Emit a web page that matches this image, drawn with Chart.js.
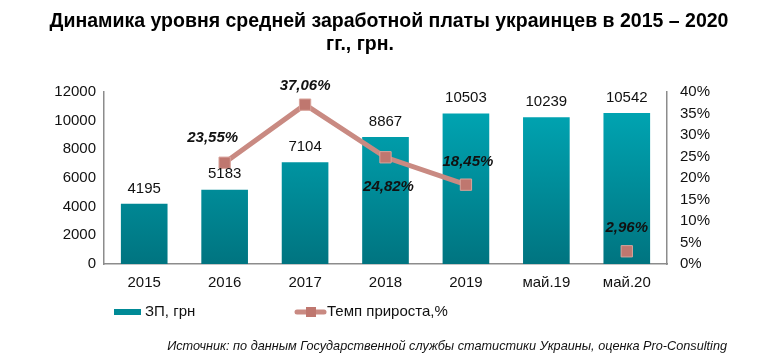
<!DOCTYPE html>
<html>
<head>
<meta charset="utf-8">
<script src="https://cdn.jsdelivr.net/npm/chart.js@4"></script>
<style>
  html, body { margin: 0; padding: 0; background: #fff; }
  #wrap { width: 774px; height: 359px; }
</style>
</head>
<body>
<div id="wrap"><canvas id="myChart" width="774" height="359"></canvas></div>
<script>
// données
const categories = ["2015", "2016", "2017", "2018", "2019", "май.19", "май.20"];
const salary = [4195, 5183, 7104, 8867, 10503, 10239, 10542];
const growth = [null, 23.55, 37.06, 24.82, 18.45, null, 2.96];
const salaryTicks = [0, 2000, 4000, 6000, 8000, 10000, 12000];
const growthTicks = [0, 5, 10, 15, 20, 25, 30, 35, 40];
const seriesNames = ["ЗП, грн", "Темп прироста,%"];
const titleLines = ["Динамика уровня средней заработной платы украинцев в 2015 – 2020", "гг., грн."];
const sourceText = "Источник: по данным Государственной службы статистики Украины, оценка Pro-Consulting";

const FONT = "'Liberation Sans', Arial, sans-serif";
const lineColor = '#c98a82';
const markerColor = '#bf776f';

// décalage des étiquettes de pourcentage par rapport au point
const growthLabelOffset = [null, [-12, -25], [0, -19], [3, 30], [2, -23], null, [0, -23]];

function barGradient(context) {
    const chart = context.chart;
    const area = chart.chartArea;
    if (!area) return '#0097a3';
    const g = chart.ctx.createLinearGradient(0, area.top, 0, area.bottom);
    g.addColorStop(0, '#00aab8');
    g.addColorStop(1, '#007480');
    return g;
}

const labelsPlugin = {
    id: 'labelsPlugin',
    afterDatasetsDraw(chart) {
        const ctx = chart.ctx;
        ctx.save();
        // valeurs des barres
        const barMeta = chart.getDatasetMeta(1);
        ctx.fillStyle = '#111';
        ctx.font = "15px " + FONT;
        ctx.textAlign = 'center';
        ctx.textBaseline = 'bottom';
        barMeta.data.forEach((bar, i) => {
            ctx.fillText(String(salary[i]), bar.x, bar.y - 8);
        });
        // pourcentages
        const lineMeta = chart.getDatasetMeta(0);
        ctx.font = "italic bold 15px " + FONT;
        ctx.textBaseline = 'middle';
        lineMeta.data.forEach((pt, i) => {
            if (growth[i] === null) return;
            const txt = growth[i].toFixed(2).replace('.', ',') + '%';
            const off = growthLabelOffset[i];
            ctx.fillText(txt, pt.x + off[0], pt.y + off[1]);
        });
        ctx.restore();
    },
    afterDraw(chart) {
        const ctx = chart.ctx;
        ctx.save();
        // titre
        ctx.fillStyle = '#000';
        ctx.font = "bold 19.5px " + FONT;
        ctx.textAlign = 'center';
        ctx.textBaseline = 'middle';
        ctx.fillText(titleLines[0], 389, 22);
        ctx.fillText(titleLines[1], 360, 45);
        // légende
        const ly = 312;
        ctx.fillStyle = '#008a96';
        ctx.fillRect(114, ly - 3, 27, 6);
        ctx.fillStyle = '#111';
        ctx.font = "15px " + FONT;
        ctx.textAlign = 'left';
        ctx.fillText(seriesNames[0], 145, ly);
        ctx.strokeStyle = lineColor;
        ctx.lineWidth = 5;
        ctx.lineCap = 'round';
        ctx.beginPath();
        ctx.moveTo(297, ly);
        ctx.lineTo(324, ly);
        ctx.stroke();
        ctx.fillStyle = markerColor;
        ctx.fillRect(306, ly - 5, 10, 10);
        ctx.fillStyle = '#111';
        ctx.fillText(seriesNames[1], 327, ly);
        // source
        ctx.font = "italic 12.7px " + FONT;
        ctx.textAlign = 'right';
        ctx.fillText(sourceText, 727, 346);
        ctx.restore();
    }
};

const ctx = document.getElementById('myChart').getContext('2d');
const myChart = new Chart(ctx, {
    data: {
        labels: categories,
        datasets: [
            {
                type: 'line',
                label: seriesNames[1],
                data: growth,
                yAxisID: 'y1',
                borderColor: lineColor,
                borderWidth: 5,
                pointStyle: 'rect',
                pointRadius: 8,
                pointBackgroundColor: markerColor,
                pointBorderColor: '#d9a39b',
                pointBorderWidth: 1,
                spanGaps: false,
                order: 0
            },
            {
                type: 'bar',
                label: seriesNames[0],
                data: salary,
                yAxisID: 'y',
                backgroundColor: barGradient,
                barPercentage: 0.58,
                categoryPercentage: 1.0,
                order: 1
            }
        ]
    },
    options: {
        responsive: false,
        animation: false,
        layout: { padding: { top: 92, bottom: 57, left: 0, right: 0 } },
        plugins: {
            legend: { display: false },
            title: { display: false },
            tooltip: { enabled: false }
        },
        scales: {
            x: {
                grid: { display: false, drawTicks: false },
                border: { color: '#8c8c8c', width: 1.5 },
                ticks: { color: '#111', font: { size: 15, family: FONT }, padding: 10, maxRotation: 0, autoSkip: false }
            },
            y: {
                position: 'left',
                min: 0, max: 12000,
                afterFit(scale) { scale.width = 104; },
                afterBuildTicks(scale) { scale.ticks = salaryTicks.map(v => ({ value: v })); },
                grid: { display: false, drawTicks: false },
                border: { color: '#8c8c8c', width: 1.5 },
                ticks: { color: '#111', font: { size: 15, family: FONT }, padding: 8, callback: v => String(v) }
            },
            y1: {
                position: 'right',
                min: 0, max: 40,
                afterFit(scale) { scale.width = 107; },
                afterBuildTicks(scale) { scale.ticks = growthTicks.map(v => ({ value: v })); },
                grid: { display: false, drawOnChartArea: false, drawTicks: true, tickLength: 5, color: '#8c8c8c' },
                border: { color: '#8c8c8c', width: 1.5 },
                ticks: { color: '#111', font: { size: 15, family: FONT }, padding: 8, callback: v => v + '%' }
            }
        }
    },
    plugins: [labelsPlugin]
});
</script>
</body>
</html>
